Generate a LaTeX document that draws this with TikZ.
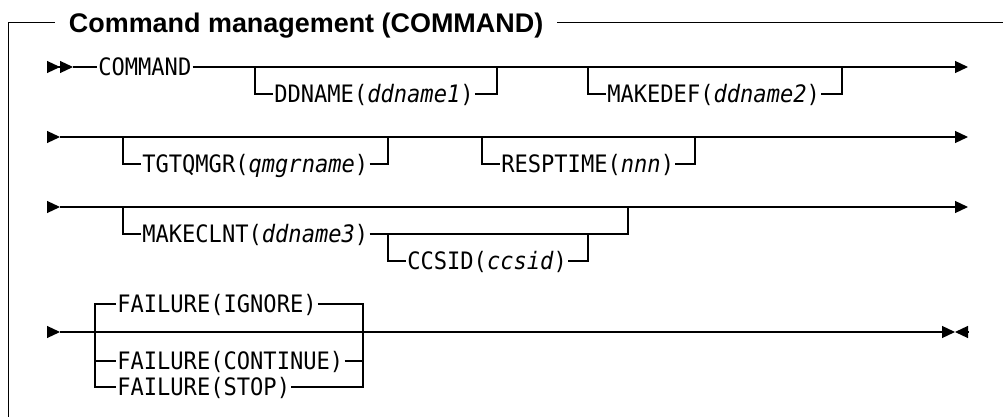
\documentclass[tikz,border=0pt]{standalone}
\usepackage{fontspec}
\newfontfamily\railfont[FakeStretch=0.92]{DejaVu Sans Mono}
\newfontfamily\headfont{Liberation Sans}
\usetikzlibrary{arrows.meta}

\begin{document}
\begin{tikzpicture}[x=0.75pt, y=-0.75pt, line width=0.9pt,
  kw/.style={anchor=west, font=\railfont\fontsize{18pt}{20pt}\selectfont, inner xsep=0.5pt, inner ysep=0pt, text height=13.1pt, text depth=0pt},
  rail/.style={-{Triangle[length=9.75pt, width=9pt]}},
  railstart/.style={-{Triangle[length=9.75pt, width=9pt]Triangle[length=9.75pt, width=9pt]}}]
\useasboundingbox (0,0) rectangle (1003,417);

% frame and heading
\node[anchor=west, font=\headfont\bfseries\fontsize{20.2pt}{24pt}\selectfont, inner xsep=10pt, inner ysep=0pt, text height=14.5pt, text depth=0pt] (title) at (55,22.7) {Command management (COMMAND)};
\coordinate (fbot) at (8.5,420);
\coordinate (ftop) at (8.5,22.7);
\coordinate (fright) at (1003,22.7);
\draw (fbot) -- (ftop) -- (title);
\draw (title) -- (fright);

% row 1
\coordinate (r1s) at (47,67);
\coordinate (r1a) at (73,67);
\coordinate (r1e) at (968,67);
\node[kw] (command) at (97,67) {COMMAND};
\draw[railstart] (r1s) -- (r1a);
\draw (r1a) -- (command);
\draw[rail] (command) -- (r1e);
\coordinate (dd1) at (255,67);
\coordinate (dd2) at (497,67);
\node[kw] (ddname) at (273,94) {DDNAME(\textit{ddname1})};
\draw (dd1) |- (ddname);
\draw (ddname) -| (dd2);
\coordinate (md1) at (588,67);
\coordinate (md2) at (842,67);
\node[kw] (makedef) at (606,94) {MAKEDEF(\textit{ddname2})};
\draw (md1) |- (makedef);
\draw (makedef) -| (md2);

% row 2
\coordinate (r2s) at (47,137);
\coordinate (r2a) at (60,137);
\coordinate (r2e) at (968,137);
\draw[rail] (r2s) -- (r2a);
\draw[rail] (r2a) -- (r2e);
\coordinate (tq1) at (123,137);
\coordinate (tq2) at (388,137);
\node[kw] (tgtqmgr) at (141,164) {TGTQMGR(\textit{qmgrname})};
\draw (tq1) |- (tgtqmgr);
\draw (tgtqmgr) -| (tq2);
\coordinate (rt1) at (482,137);
\coordinate (rt2) at (695,137);
\node[kw] (resptime) at (500,164) {RESPTIME(\textit{nnn})};
\draw (rt1) |- (resptime);
\draw (resptime) -| (rt2);

% row 3
\coordinate (r3s) at (47,207);
\coordinate (r3a) at (60,207);
\coordinate (r3e) at (968,207);
\draw[rail] (r3s) -- (r3a);
\draw[rail] (r3a) -- (r3e);
\coordinate (mc1) at (123,207);
\coordinate (mc2) at (628,207);
\node[kw] (makeclnt) at (141,234) {MAKECLNT(\textit{ddname3})};
\draw (mc1) |- (makeclnt);
\draw (makeclnt) -| (mc2);
\coordinate (cc1) at (388,234);
\coordinate (cc2) at (588,234);
\node[kw] (ccsid) at (406,261) {CCSID(\textit{ccsid})};
\draw (cc1) |- (ccsid);
\draw (ccsid) -| (cc2);

% row 4
\coordinate (r4s) at (47,332);
\coordinate (r4a) at (60,332);
\coordinate (r4t) at (955,332);
\coordinate (r4z) at (968,332);
\draw[rail] (r4s) -- (r4a);
\draw[rail] (r4a) -- (r4t);
\draw[rail] (r4z) -- (r4t);
\coordinate (fl) at (95,332);
\coordinate (fr) at (363,332);
\node[kw] (ignore) at (116,304) {FAILURE(IGNORE)};
\node[kw] (continue) at (116,361) {FAILURE(CONTINUE)};
\node[kw] (stop) at (116,387) {FAILURE(STOP)};
\draw (fl) |- (ignore);
\draw (fl) |- (continue);
\draw (fl) |- (stop);
\draw (ignore) -| (fr);
\draw (continue) -| (fr);
\draw (stop) -| (fr);
\end{tikzpicture}
\end{document}
